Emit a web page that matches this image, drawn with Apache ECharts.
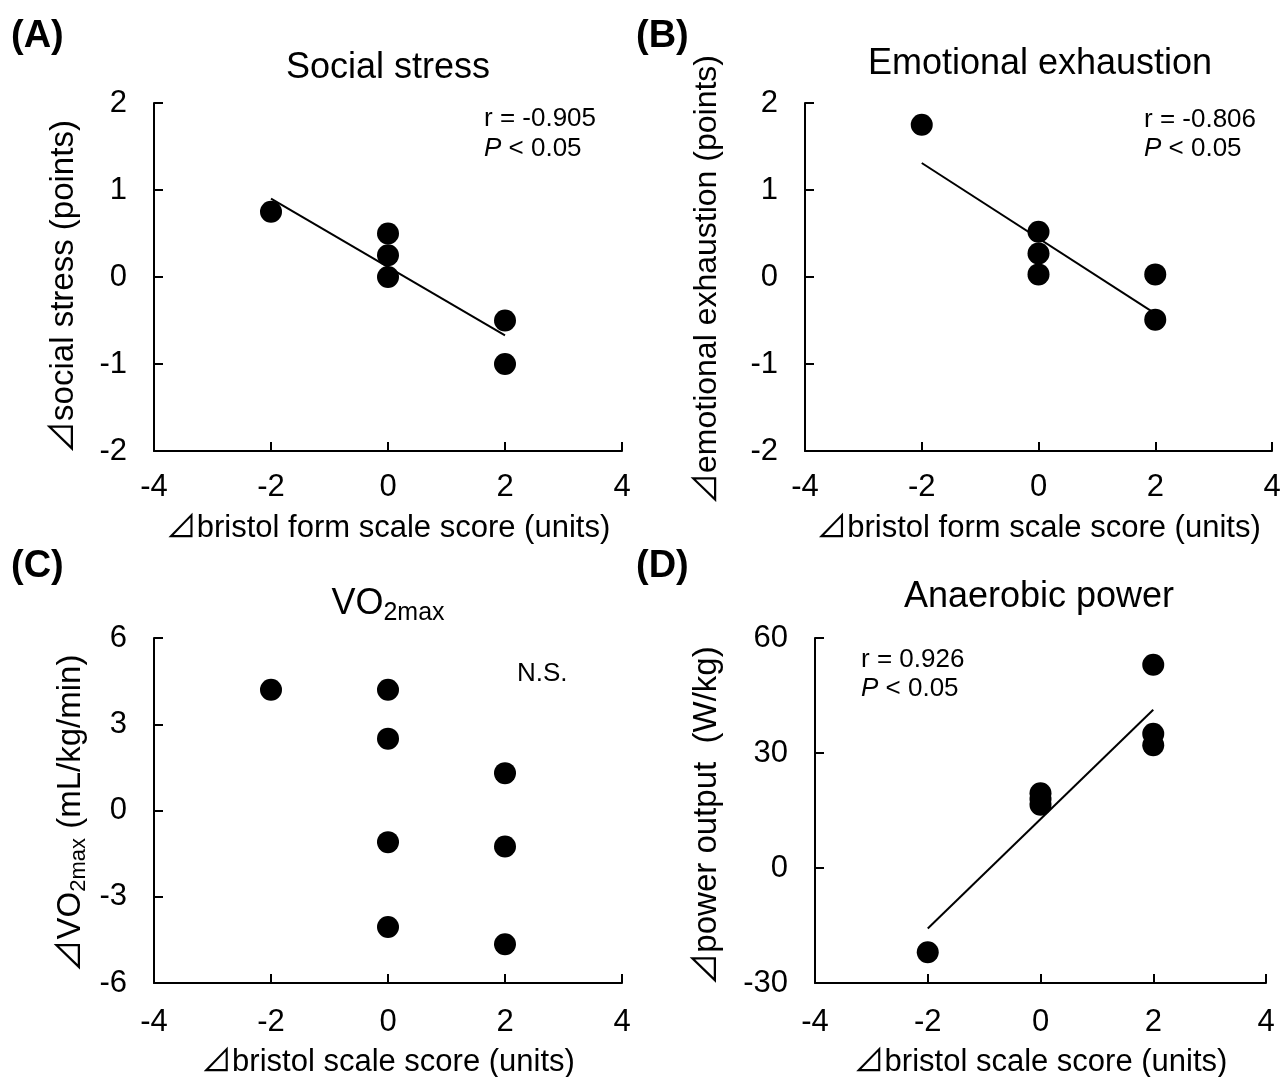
<!DOCTYPE html>
<html>
<head>
<meta charset="utf-8">
<script src="https://cdn.jsdelivr.net/npm/echarts@6/dist/echarts.min.js"></script>
<style>
  html, body { margin: 0; padding: 0; background: #fff; }
  #chart { width: 1285px; height: 1077px; }
</style>
</head>
<body>
<div id="chart"></div>
<script>
(function () {
    'use strict';

    // values
    var stressX = [-2, 0, 0, 0, 2, 2];
    var stressY = [0.75, 0.5, 0.25, 0, -0.5, -1];
    var stressFitX = [-2, 2];
    var stressFitY = [0.9, -0.67];

    var exhaustX = [-2, 0, 0, 0, 2, 2];
    var exhaustY = [1.75, 0.52, 0.27, 0.03, 0.03, -0.49];
    var exhaustFitX = [-2, 2];
    var exhaustFitY = [1.31, -0.42];

    var vo2X = [-2, 0, 0, 0, 0, 2, 2, 2];
    var vo2Y = [4.2, 4.2, 2.5, -1.1, -4.05, 1.3, -1.25, -4.65];

    var powerX = [-2, 0, 0, 0, 2, 2, 2];
    var powerY = [-22, 19.5, 18, 16.5, 53, 35, 32];
    var powerFitX = [-2, 2];
    var powerFitY = [-15.8, 41.3];

    var font = "'Liberation Sans', Arial, 'Noto Sans CJK JP', sans-serif";
    var black = '#000';

    function pairs(xs, ys) {
        return xs.map(function (x, i) { return [x, ys[i]]; });
    }

    function xAxis(grid, name, gap, margin) {
        return {
            type: 'value', gridIndex: grid, min: -4, max: 4, interval: 2,
            name: name, nameLocation: 'middle', nameGap: gap,
            nameTextStyle: { fontSize: 31, color: black, fontFamily: font },
            axisLine: { show: true, onZero: false, lineStyle: { color: black, width: 2 } },
            axisTick: { show: true, inside: true, length: 9, lineStyle: { color: black, width: 2 } },
            axisLabel: { fontSize: 31, color: black, margin: margin, fontFamily: font },
            splitLine: { show: false }
        };
    }

    function yAxis(grid, min, max, step, name, size, gap, shift, rich) {
        return {
            type: 'value', gridIndex: grid, min: min, max: max, interval: step,
            name: name, nameLocation: 'middle', nameGap: gap,
            nameTextStyle: {
                fontSize: size, color: black, fontFamily: font,
                padding: [0, shift, 0, 0], rich: rich || {}
            },
            axisLine: { show: true, onZero: false, lineStyle: { color: black, width: 2 } },
            axisTick: { show: true, inside: true, length: 9, lineStyle: { color: black, width: 2 } },
            axisLabel: { fontSize: 31, color: black, margin: 27, fontFamily: font },
            splitLine: { show: false }
        };
    }

    function dots(idx, xs, ys) {
        return {
            type: 'scatter', xAxisIndex: idx, yAxisIndex: idx,
            data: pairs(xs, ys), symbolSize: 22,
            itemStyle: { color: black, opacity: 1 }, z: 3
        };
    }

    function fit(idx, xs, ys) {
        return {
            type: 'line', xAxisIndex: idx, yAxisIndex: idx,
            data: pairs(xs, ys), showSymbol: false, symbol: 'none',
            lineStyle: { color: black, width: 2 }, z: 4
        };
    }

    function label(x, y, text, size, extra) {
        var style = {
            text: text, fontSize: size, fontFamily: font, fill: black,
            align: 'left', verticalAlign: 'middle'
        };
        if (extra) {
            for (var k in extra) { style[k] = extra[k]; }
        }
        return { type: 'text', x: x, y: y, style: style };
    }

    function grid(left, top, width, height) {
        return { left: left, top: top, width: width, height: height, outerBoundsMode: 'none' };
    }

    var italic = { i: { fontStyle: 'italic', fontSize: 26, fontFamily: font } };
    var sub = {
        s: { fontSize: 22, fontFamily: font, padding: [16, 0, 0, 0] }
    };

    var chart = echarts.init(document.getElementById('chart'));

    chart.setOption({
        backgroundColor: '#fff',
        animation: false,
        grid: [
            grid(154, 103, 468, 348),
            grid(805, 103, 467, 348),
            grid(154, 638, 468, 345),
            grid(815, 638, 451, 345)
        ],
        xAxis: [
            xAxis(0, '⊿bristol form scale score (units)', 62, 21),
            xAxis(1, '⊿bristol form scale score (units)', 62, 21),
            xAxis(2, '⊿bristol scale score (units)', 64, 24),
            xAxis(3, '⊿bristol scale score (units)', 64, 24)
        ],
        yAxis: [
            yAxis(0, -2, 2, 1, '⊿social stress (points)', 33, 74, 20),
            yAxis(1, -2, 2, 1, '⊿emotional exhaustion (points)', 32, 82, 6),
            yAxis(2, -6, 6, 3, '⊿VO{s|2max} (mL/kg/min)', 33, 64, 6, sub),
            yAxis(3, -30, 60, 30, '⊿power output  (W/kg)', 33, 92, 11)
        ],
        series: [
            dots(0, stressX, stressY), fit(0, stressFitX, stressFitY),
            dots(1, exhaustX, exhaustY), fit(1, exhaustFitX, exhaustFitY),
            dots(2, vo2X, vo2Y),
            dots(3, powerX, powerY), fit(3, powerFitX, powerFitY)
        ],
        graphic: [
            label(11, 37, '(A)', 38, { fontWeight: 'bold' }),
            label(636, 37, '(B)', 38, { fontWeight: 'bold' }),
            label(11, 567, '(C)', 38, { fontWeight: 'bold' }),
            label(636, 567, '(D)', 38, { fontWeight: 'bold' }),

            label(388, 68, 'Social stress', 36, { align: 'center' }),
            label(1040, 64, 'Emotional exhaustion', 36, { align: 'center' }),
            label(388, 604, 'VO{s|2max}', 36, {
                align: 'center',
                rich: { s: { fontSize: 25, fontFamily: font, padding: [18, 0, 0, 0] } }
            }),
            label(1039, 597, 'Anaerobic power', 36, { align: 'center' }),

            label(484, 119, 'r = -0.905', 26),
            label(484, 149, '{i|P} < 0.05', 26, { rich: italic }),
            label(1144, 120, 'r = -0.806', 26),
            label(1144, 149, '{i|P} < 0.05', 26, { rich: italic }),
            label(517, 674, 'N.S.', 26),
            label(861, 660, 'r = 0.926', 26),
            label(861, 689, '{i|P} < 0.05', 26, { rich: italic })
        ]
    });
})();
</script>
</body>
</html>
